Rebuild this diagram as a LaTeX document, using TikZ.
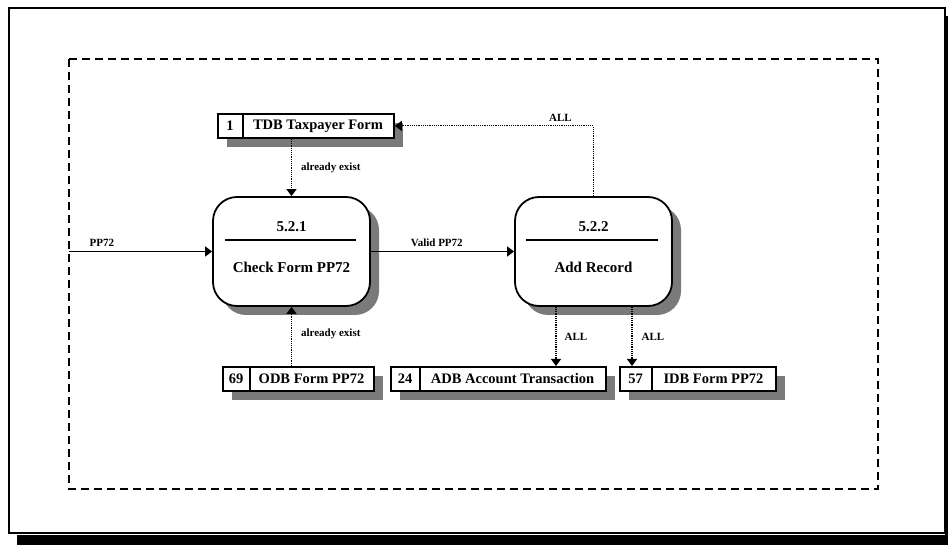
\documentclass[tikz,border=0pt]{standalone}
\usepackage{fontspec}
\setmainfont{Liberation Serif}
\usetikzlibrary{arrows.meta,shadows,calc}
\begin{document}
\begin{tikzpicture}[x=1pt,y=-1pt,
  shd/.style={drop shadow={shadow xshift=9pt,shadow yshift=-9pt,fill=black!52,opacity=1}},
  store/.style={draw,line width=1.8pt,fill=white,minimum height=24pt,inner sep=0pt,shd},
  stext/.style={font=\bfseries\fontsize{14.5}{16}\selectfont,inner sep=0pt},
  divider/.style={line width=1.8pt},
  proc/.style={draw,line width=1.8pt,fill=white,rounded corners=24pt,minimum width=157pt,
    minimum height=109pt,inner sep=0pt,shd},
  ptext/.style={font=\bfseries\fontsize{15}{17}\selectfont,inner sep=0pt},
  flowlbl/.style={font=\bfseries\fontsize{11}{13}\selectfont,inner sep=0pt},
  solidflow/.style={line width=1.2pt,-{Triangle[width=10pt,length=7pt]}},
  dotflow/.style={line width=1.2pt,densely dotted,-{Triangle[width=10pt,length=7pt]}},
  pagebox/.style={draw,line width=1.5pt},
  boundary/.style={draw,line width=2.5pt,dash pattern=on 8pt off 5pt},
]
\useasboundingbox (0,0) rectangle (948,545);
\fill[white] (0,0) rectangle (948,545);
% page frame with shadow
\fill[black] (17,535) rectangle (948,545);
\fill[black] (945,16) rectangle (948,545);
\draw[pagebox] (9,8) rectangle (945,533);
% system boundary
\draw[boundary] (69,59) rectangle (878,489);

% processes
\node[proc] (p1) at (291.5,251.5) {};
\node[ptext] (p1id) at ($(p1.north)+(0,31)$) {5.2.1};
\node[ptext] (p1name) at ($(p1.north)+(0,71)$) {Check Form PP72};
\draw[line width=2pt] ($(p1.north west)+(13,44)$) -- ($(p1.north east)+(-15,44)$);

\node[proc] (p2) at (593.5,251.5) {};
\node[ptext] (p2id) at ($(p2.north)+(0,31)$) {5.2.2};
\node[ptext] (p2name) at ($(p2.north)+(0,71)$) {Add Record};
\draw[line width=2pt] ($(p2.north west)+(12,44)$) -- ($(p2.north east)+(-15,44)$);

% data stores
\node[store,minimum width=176pt,anchor=north west] (tdb) at (217,113) {};
\draw[divider] ($(tdb.north west)+(26,0)$) -- ($(tdb.south west)+(26,0)$);
\node[stext] (tdbn) at ($(tdb.west)+(13,0)$) {1};
\node[stext] (tdbt) at ($(tdb.west)+(101,0)$) {TDB Taxpayer Form};

\node[store,minimum width=151pt,anchor=north west] (odb) at (222,366) {};
\draw[divider] ($(odb.north west)+(28,0)$) -- ($(odb.south west)+(28,0)$);
\node[stext] (odbn) at ($(odb.west)+(14,0)$) {69};
\node[stext] (odbt) at ($(odb.west)+(89.5,0)$) {ODB Form PP72};

\node[store,minimum width=215pt,anchor=north west] (adb) at (390,366) {};
\draw[divider] ($(adb.north west)+(30,0)$) -- ($(adb.south west)+(30,0)$);
\node[stext] (adbn) at ($(adb.west)+(15,0)$) {24};
\node[stext] (adbt) at ($(adb.west)+(122.5,0)$) {ADB Account Transaction};

\node[store,minimum width=156pt,anchor=north west] (idb) at (619,366) {};
\draw[divider] ($(idb.north west)+(33,0)$) -- ($(idb.south west)+(33,0)$);
\node[stext] (idbn) at ($(idb.west)+(16.5,0)$) {57};
\node[stext] (idbt) at ($(idb.west)+(94.5,0)$) {IDB Form PP72};

% flows
\coordinate (src) at (69,251.5);
\draw[solidflow] (src) -- (p1.west) node[flowlbl,pos=0.23,above=4pt] {PP72};
\draw[solidflow] (p1.east) -- (p2.west) node[flowlbl,pos=0.46,above=4pt] {Valid PP72};
\draw[dotflow] (tdb.south -| p1.north) -- (p1.north) node[flowlbl,midway,right=9pt] {already exist};
\draw[dotflow] (odb.north -| p1.south) -- (p1.south) node[flowlbl,pos=0.55,right=9pt] {already exist};
\draw[dotflow] (p2.north) |- (tdb.east) node[flowlbl,pos=0.583,above=4pt] {ALL};
\coordinate (a1) at ($(p2.south)+(-37.5,0)$);
\coordinate (a2) at ($(p2.south)+(38.5,0)$);
\draw[dotflow] (a1) -- (a1 |- adb.north) node[flowlbl,midway,right=8pt] {ALL};
\draw[dotflow] (a2) -- (a2 |- idb.north) node[flowlbl,midway,right=9pt] {ALL};
\end{tikzpicture}
\end{document}
